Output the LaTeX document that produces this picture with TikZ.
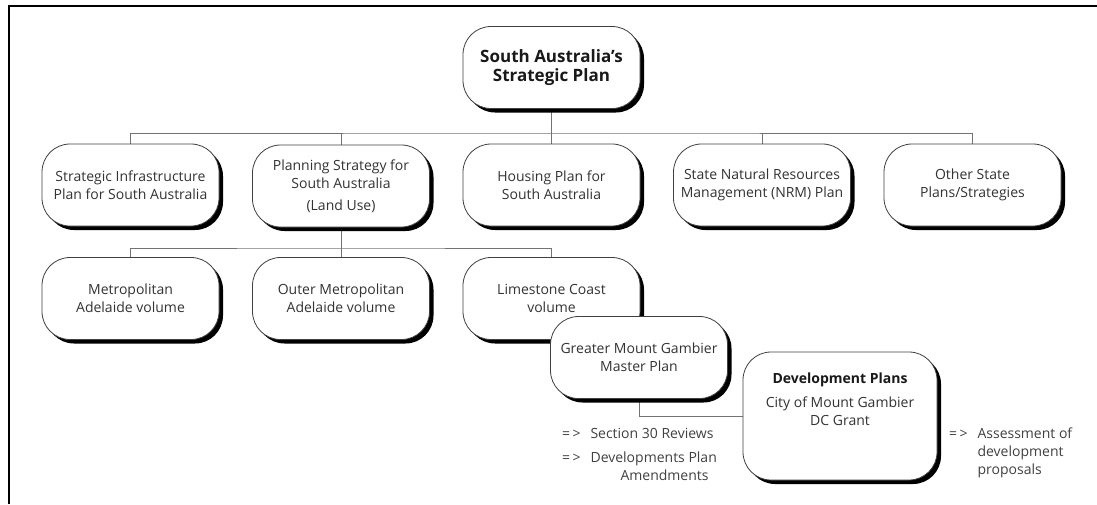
\documentclass[tikz,border=0pt]{standalone}
\usepackage{fontspec}
\setmainfont{Open Sans}
\usetikzlibrary{shadows,backgrounds}

\begin{document}
\begin{tikzpicture}[x=1pt,y=-1pt,
  planbox/.style={draw=black!75, line width=0.8pt, fill=white, rounded corners=28pt,
    minimum width=177pt, minimum height=82pt, inner sep=2pt, align=center, text=black!80,
    font=\fontsize{14}{18}\selectfont,
    drop shadow={shadow xshift=4pt, shadow yshift=-4pt, fill=black, opacity=1}},
  link/.style={draw=black!55, line width=0.8pt},
  note/.style={anchor=base west, inner sep=0pt, text=black!75, font=\fontsize{14}{18}\selectfont}]
\useasboundingbox (0,0) rectangle (1097,504);

% frame
\draw[line width=1.3pt] (9,504) -- (9,6) -- (1097,6);

%Shape: top plan
\node[planbox, font=\fontsize{17}{19}\selectfont\bfseries, text=black!90] (sapl) at (551.5,67.5) {South Australia’s\\Strategic Plan};

%Shape: state plans
\node[planbox] (infra) at (130.5,185) {Strategic Infrastructure\\Plan for South Australia};
\node[planbox] (plan) at (341,186) {Planning Strategy for\\South Australia\\[4pt](Land Use)};
\node[planbox] (house) at (551.5,185) {Housing Plan for\\South Australia};
\node[planbox] (nrm) at (762,185) {State Natural Resources\\Management (NRM) Plan};
\node[planbox] (other) at (972.5,185) {Other State\\Plans/Strategies};

%Shape: volumes
\node[planbox] (metro) at (130.5,298.5) {Metropolitan\\Adelaide volume};
\node[planbox] (outer) at (341,298.5) {Outer Metropolitan\\Adelaide volume};
\node[planbox] (lime) at (551.5,298.5) {Limestone Coast\\volume};
\node[planbox] (gmg) at (639,357.5) {Greater Mount Gambier\\Master Plan};
\node[planbox, minimum width=194pt, minimum height=128pt] (dp) at (840,416)
  {{\bfseries\color{black!90}Development Plans}\\[6pt]City of Mount Gambier\\DC Grant\\[10pt]\strut};

% Text Node
\node[note] (gmgnote) at (562,438) {\begin{tabular}[t]{@{}l@{\hspace{10pt}}l@{}}
  =\,> & Section 30 Reviews\\[6pt]
  =\,> & Developments Plan\\
       & \hspace{30pt}Amendments
\end{tabular}};
\node[note] (dpnote) at (949,438) {\begin{tabular}[t]{@{}l@{\hspace{10pt}}l@{}}
  =\,> & Assessment of\\
       & development\\
       & proposals
\end{tabular}};

%Straight Lines
\coordinate (busA) at (551.5,133);
\coordinate (busB) at (341,248);
\begin{pgfonlayer}{background}
\draw[link] (sapl.south) -- (house.north);
\draw[link] (infra.north) |- (busA) -| (other.north);
\draw[link] (plan.north) -- (plan.north |- busA);
\draw[link] (nrm.north) -- (nrm.north |- busA);
\draw[link] (plan.south) -- (busB);
\draw[link] (metro.north) |- (busB) -| (lime.north);
\draw[link] (outer.north) -- (outer.north |- busB);
\draw[link] (gmg.south) |- (dp.west);
\end{pgfonlayer}
\end{tikzpicture}
\end{document}
